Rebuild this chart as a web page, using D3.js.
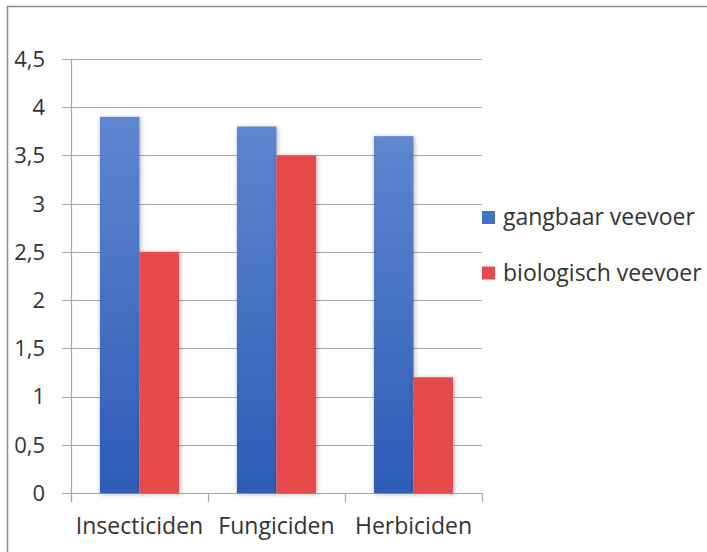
<!DOCTYPE html>
<html>
<head>
<meta charset="utf-8">
<script src="https://cdn.jsdelivr.net/npm/d3@7"></script>
<style>
  body { margin: 0; background: #fff; }
  svg text { font-family: "Open Sans", "Noto Sans", sans-serif; fill: #333; }
</style>
</head>
<body>
<div id="chart"></div>
<script>
// Data
const categories = ["Insecticiden", "Fungiciden", "Herbiciden"];
const seriesNames = ["gangbaar veevoer", "biologisch veevoer"];
const gangbaar = [3.9, 3.8, 3.7];
const biologisch = [2.5, 3.5, 1.2];
const yTicks = [0, 0.5, 1, 1.5, 2, 2.5, 3, 3.5, 4, 4.5];

const width = 707, height = 552;
const margin = { top: 59, left: 71, right: 225, bottom: 59 };

const svg = d3.select("#chart").append("svg")
  .attr("width", width)
  .attr("height", height);

// gradient + shadow
const defs = svg.append("defs");
const grad = defs.append("linearGradient")
  .attr("id", "blueGrad").attr("x1", 0).attr("y1", 0).attr("x2", 0).attr("y2", 1);
grad.append("stop").attr("offset", "0%").attr("stop-color", "#5f86cf");
grad.append("stop").attr("offset", "100%").attr("stop-color", "#2d5cb6");

const shadow = defs.append("filter").attr("id", "shadow")
  .attr("x", "-30%").attr("y", "-10%").attr("width", "160%").attr("height", "120%");
shadow.append("feDropShadow")
  .attr("dx", 1).attr("dy", 1).attr("stdDeviation", 2.5)
  .attr("flood-color", "#000").attr("flood-opacity", 0.3);

// outer frame
svg.append("path")
  .attr("d", `M7.5,${height} V6.5 H${width}`)
  .attr("fill", "none")
  .attr("stroke", "#8a8a8a")
  .attr("stroke-width", 1.5);

const x0 = d3.scaleBand()
  .domain(categories)
  .range([margin.left, width - margin.right])
  .paddingInner(0)
  .paddingOuter(0);

const x1 = d3.scaleBand()
  .domain(seriesNames)
  .range([0, x0.bandwidth()])
  .paddingInner(0)
  .paddingOuter(0.73);

const y = d3.scaleLinear()
  .domain([0, 4.5])
  .range([height - margin.bottom, margin.top]);

// gridlines
svg.append("g")
  .selectAll("line")
  .data(yTicks)
  .join("line")
  .attr("x1", margin.left - 9)
  .attr("x2", width - margin.right)
  .attr("y1", d => Math.round(y(d)) + 0.5)
  .attr("y2", d => Math.round(y(d)) + 0.5)
  .attr("stroke", "#a6a6a6")
  .attr("stroke-width", 1.2);

// y axis line
svg.append("line")
  .attr("x1", margin.left + 0.5).attr("x2", margin.left + 0.5)
  .attr("y1", y(4.5)).attr("y2", y(0) + 9)
  .attr("stroke", "#a6a6a6").attr("stroke-width", 1.2);

// x category ticks
const edges = categories.map(c => x0(c)).concat([x0(categories[categories.length - 1]) + x0.bandwidth()]);
svg.append("g")
  .selectAll("line")
  .data(edges)
  .join("line")
  .attr("x1", d => Math.round(d) + 0.5)
  .attr("x2", d => Math.round(d) + 0.5)
  .attr("y1", y(0))
  .attr("y2", y(0) + 9)
  .attr("stroke", "#a6a6a6").attr("stroke-width", 1.2);

// y labels
svg.append("g")
  .selectAll("text")
  .data(yTicks)
  .join("text")
  .attr("x", 45)
  .attr("y", d => y(d))
  .attr("dy", "0.36em")
  .attr("text-anchor", "end")
  .style("font-size", "22px")
  .text(d => String(d).replace(".", ","));

// bars
const rows = categories.map((c, i) => ({ cat: c, values: [gangbaar[i], biologisch[i]] }));
const fills = ["url(#blueGrad)", "#e84a4b"];

const groups = svg.append("g")
  .selectAll("g")
  .data(rows)
  .join("g")
  .attr("transform", d => `translate(${x0(d.cat)},0)`);

groups.selectAll("rect")
  .data(d => d.values.map((v, j) => ({ name: seriesNames[j], value: v, j })))
  .join("rect")
  .attr("x", d => x1(d.name))
  .attr("y", d => y(d.value))
  .attr("width", x1.bandwidth())
  .attr("height", d => y(0) - y(d.value))
  .attr("fill", d => fills[d.j])
  .attr("filter", "url(#shadow)");

// x labels
svg.append("g")
  .selectAll("text")
  .data(categories)
  .join("text")
  .attr("x", d => x0(d) + x0.bandwidth() / 2)
  .attr("y", 534)
  .attr("text-anchor", "middle")
  .style("font-size", "23px")
  .text(d => d);

// legend
const legend = svg.append("g")
  .selectAll("g")
  .data(seriesNames)
  .join("g")
  .attr("transform", (d, i) => `translate(482,${211 + i * 55.5})`);

legend.append("rect")
  .attr("width", 13).attr("height", 13)
  .attr("fill", (d, i) => i === 0 ? "#4472c4" : "#e84a4b");

legend.append("text")
  .attr("x", 21)
  .attr("y", 14)
  .style("font-size", "23px")
  .text(d => d);
</script>
</body>
</html>
